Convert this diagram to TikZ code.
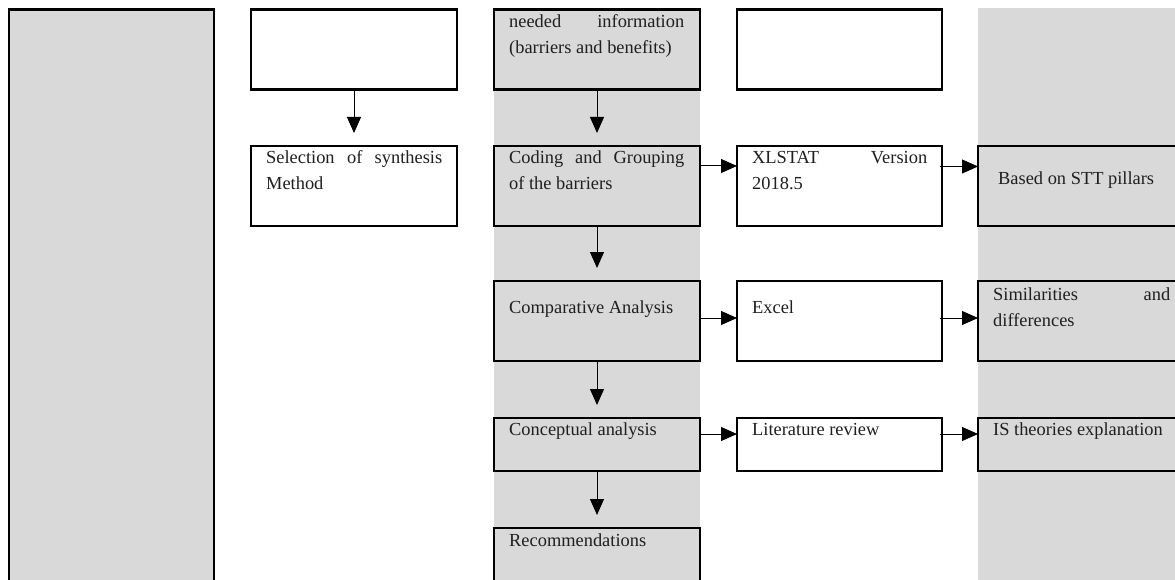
\documentclass[tikz,border=0pt]{standalone}
\usepackage{fontspec}
\setmainfont{Liberation Serif}
\usetikzlibrary{arrows.meta,calc}
\definecolor{panel}{RGB}{217,217,217}

\tikzset{
  box/.style={draw=black, line width=2.6pt, fill=white, inner sep=0pt, outer sep=0pt},
  greybox/.style={box, fill=panel},
  thinbox/.style={box, line width=2pt},
  lbl/.style={anchor=base west, inner sep=0pt, font=\fontsize{18.4}{26}\selectfont, text=black!88},
  flow/.style={line width=1pt, -{Triangle[length=16pt,width=14pt]}},
  down/.style={flow, shorten >=13pt},
}

\begin{document}
\begin{tikzpicture}[x=1pt, y=-1pt]
\path[use as bounding box, clip] (0,0) rectangle (1175,580);
\fill[white] (0,0) rectangle (1175,580);

% shaded columns
\fill[panel] (494,9) rectangle (700,580);
\fill[panel] (978,8) rectangle (1175,580);

% left panel
\node[greybox, minimum width=205pt, minimum height=610pt] (side) at (111.5,314.5) {};

% second column
\node[box, minimum width=206pt, minimum height=80pt] (top2) at (354,49.5) {};
\node[box, minimum width=206pt, minimum height=80pt] (sel) at (354,186) {};

% central column
\node[greybox, minimum width=206pt, minimum height=80pt] (need) at (597,49.5) {};
\node[greybox, minimum width=206pt, minimum height=80pt] (code) at (597,186) {};
\node[greybox, minimum width=206pt, minimum height=80pt] (cmp) at (597,321) {};
\node[greybox, minimum width=206pt, minimum height=53pt] (conc) at (597,444.5) {};
\node[greybox, minimum width=206pt, minimum height=92pt] (rec) at (597,574) {};

% tools column
\node[box, minimum width=205pt, minimum height=80pt] (top4) at (839.5,49.5) {};
\node[thinbox, minimum width=205pt, minimum height=80pt] (xl) at (839.5,186) {};
\node[thinbox, minimum width=205pt, minimum height=80pt] (xc) at (839.5,321) {};
\node[box, minimum width=205pt, minimum height=53pt] (lit) at (839.5,444.5) {};

% outcomes column
\node[greybox, minimum width=232pt, minimum height=80pt] (stt) at (1094,186) {};
\node[greybox, minimum width=232pt, minimum height=80pt] (sim) at (1094,321) {};
\node[greybox, minimum width=232pt, minimum height=53pt] (ist) at (1094,444.5) {};

% labels
\node[lbl] (selT) at (266,164) {\parbox[t]{190pt}{\makebox[176pt][s]{Selection of synthesis}\\Method}};
\node[lbl] (needT) at (509,28) {\parbox[t]{190pt}{\makebox[175pt][s]{needed information}\\(barriers and benefits)}};
\node[lbl] (codeT) at (509,164) {\parbox[t]{190pt}{\makebox[175pt][s]{Coding and Grouping}\\of the barriers}};
\node[lbl] (cmpT) at (509,313) {Comparative Analysis};
\node[lbl] (concT) at (509,435) {Conceptual analysis};
\node[lbl] (recT) at (509,546) {Recommendations};
\node[lbl] (xlT) at (752,164) {\parbox[t]{190pt}{\makebox[175pt][s]{XLSTAT Version}\\2018.5}};
\node[lbl] (xcT) at (752,313) {Excel};
\node[lbl] (litT) at (752,435) {Literature review};
\node[lbl] (sttT) at (998,185) {Based on STT pillars};
\node[lbl] (simT) at (993,300) {\parbox[t]{190pt}{\makebox[177pt][s]{Similarities and}\\differences}};
\node[lbl] (istT) at (993,435) {IS theories explanation};

% vertical flow
\draw[down] (top2.south) -- (sel.north);
\draw[down] (need.south) -- (code.north);
\draw[down] (code.south) -- (cmp.north);
\draw[down] (cmp.south) -- (conc.north);
\draw[down] (conc.south) -- (rec.north);

% horizontal flow
\draw[flow] ([yshift=20pt]code.east) -- ([yshift=20pt]xl.west);
\draw[flow] ([yshift=19.5pt,xshift=-2pt]xl.east) -- ([yshift=19.5pt]stt.west);
\draw[flow] ([yshift=3pt]cmp.east) -- ([yshift=3pt]xc.west);
\draw[flow] ([yshift=3pt,xshift=-2pt]xc.east) -- ([yshift=3pt]sim.west);
\draw[flow] ([yshift=10.5pt]conc.east) -- ([yshift=10.5pt]lit.west);
\draw[flow] ([yshift=10.5pt,xshift=-2pt]lit.east) -- ([yshift=10.5pt]ist.west);
\end{tikzpicture}
\end{document}
